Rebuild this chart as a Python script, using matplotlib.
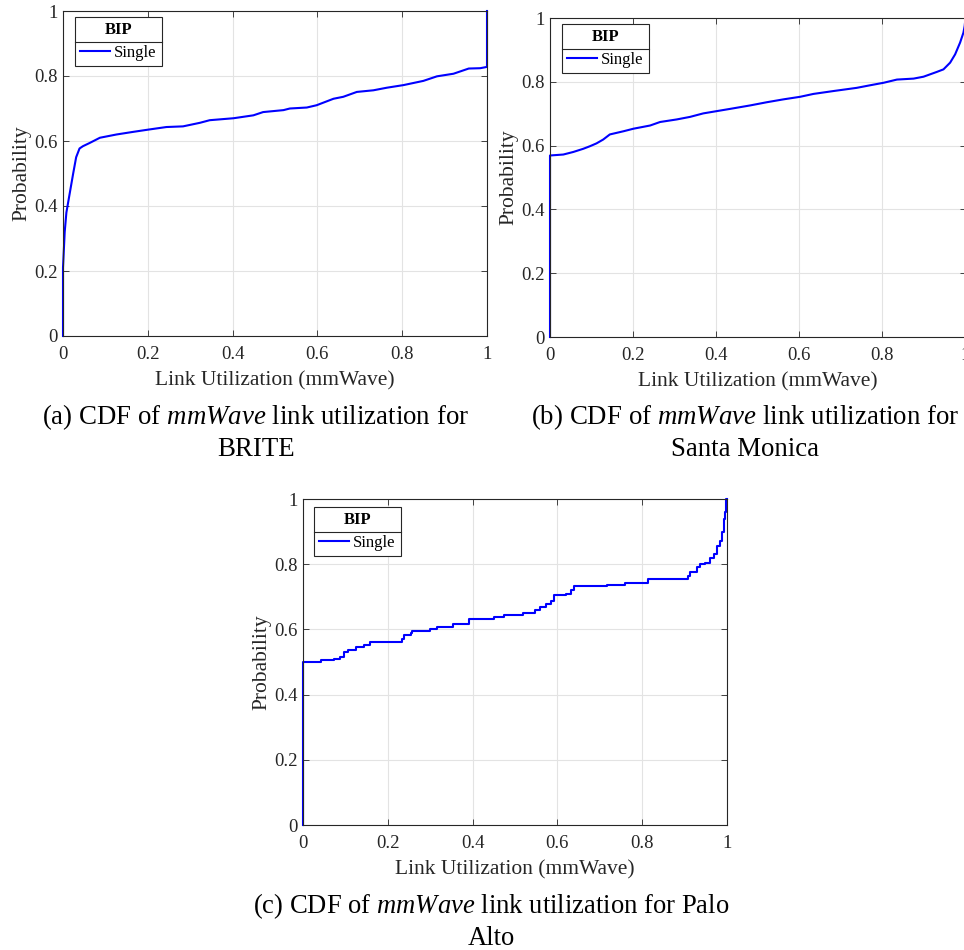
import matplotlib
matplotlib.use('Agg')
import matplotlib.pyplot as plt
from matplotlib.lines import Line2D

plt.rcParams['font.family'] = ['Liberation Serif', 'DejaVu Serif']
plt.rcParams['mathtext.fontset'] = 'custom'
plt.rcParams['mathtext.rm'] = 'Liberation Serif'
plt.rcParams['mathtext.it'] = 'Liberation Serif:italic'

# ---------------- data ----------------
ticks = [0, 0.2, 0.4, 0.6, 0.8, 1]
tick_labels = ['0', '0.2', '0.4', '0.6', '0.8', '1']
x_label = 'Link Utilization (mmWave)'
y_label = 'Probability'
legend_title = 'BIP'
series_name = 'Single'

brite_x = [0, 0, 0.004, 0.008, 0.016, 0.024, 0.031, 0.039, 0.047, 0.063,
           0.087, 0.126, 0.165, 0.201, 0.244, 0.283, 0.323, 0.346, 0.402, 0.449,
           0.472, 0.520, 0.535, 0.575, 0.598, 0.638, 0.661, 0.693, 0.732, 0.764,
           0.803, 0.850, 0.882, 0.921, 0.957, 0.984, 1.0, 1.0]
brite_y = [0, 0.21, 0.32, 0.38, 0.44, 0.50, 0.55, 0.577, 0.584, 0.594,
           0.61, 0.62, 0.628, 0.635, 0.643, 0.645, 0.656, 0.664, 0.67, 0.679,
           0.689, 0.695, 0.70, 0.703, 0.71, 0.73, 0.736, 0.751, 0.756, 0.764,
           0.772, 0.785, 0.799, 0.807, 0.823, 0.824, 0.828, 1.0]

sm_x = [0, 0, 0.032, 0.056, 0.080, 0.096, 0.112, 0.128, 0.144, 0.177,
        0.201, 0.241, 0.265, 0.305, 0.337, 0.369, 0.401, 0.433, 0.482, 0.522,
        0.562, 0.602, 0.634, 0.682, 0.738, 0.770, 0.803, 0.835, 0.875, 0.899,
        0.931, 0.947, 0.963, 0.975, 0.987, 0.995, 0.998, 1.0]
sm_y = [0, 0.569, 0.572, 0.58, 0.59, 0.598, 0.607, 0.619, 0.635, 0.645,
        0.653, 0.663, 0.674, 0.682, 0.690, 0.701, 0.708, 0.715, 0.726, 0.736,
        0.745, 0.753, 0.762, 0.771, 0.781, 0.789, 0.797, 0.807, 0.810, 0.816,
        0.831, 0.839, 0.860, 0.886, 0.923, 0.954, 0.975, 1.0]

pa_x = [0, 0, 0.042, 0.072, 0.088, 0.096, 0.105, 0.126, 0.145, 0.157,
        0.233, 0.239, 0.255, 0.257, 0.299, 0.316, 0.354, 0.391, 0.451, 0.475,
        0.519, 0.546, 0.560, 0.572, 0.585, 0.591, 0.621, 0.631, 0.640, 0.717,
        0.760, 0.813, 0.908, 0.913, 0.929, 0.936, 0.949, 0.961, 0.970, 0.976,
        0.984, 0.988, 0.992, 0.996, 0.998, 1.0]
pa_y = [0, 0.50, 0.505, 0.51, 0.515, 0.53, 0.538, 0.545, 0.553, 0.56,
        0.57, 0.583, 0.59, 0.594, 0.60, 0.606, 0.616, 0.633, 0.638, 0.643,
        0.65, 0.66, 0.67, 0.678, 0.686, 0.705, 0.71, 0.72, 0.733, 0.737,
        0.742, 0.754, 0.765, 0.775, 0.79, 0.80, 0.805, 0.82, 0.83, 0.855,
        0.87, 0.90, 0.94, 0.96, 1.0, 1.0]

captions = [
    ("(a) CDF of $\\mathit{mmWave}$ link utilization for", "BRITE"),
    ("(b) CDF of $\\mathit{mmWave}$ link utilization for", "Santa Monica"),
    ("(c) CDF of $\\mathit{mmWave}$ link utilization for Palo", "Alto"),
]

# ---------------- layout ----------------
W, H = 964, 950
fig = plt.figure(figsize=(W / 100, H / 100), dpi=100)
DARK = '#262626'


def px_axes(l, t, r, b):
    return fig.add_axes([l / W, 1 - b / H, (r - l) / W, (b - t) / H])


def style(ax):
    ax.set_xlim(0, 1)
    ax.set_ylim(0, 1)
    ax.set_xticks(ticks)
    ax.set_yticks(ticks)
    ax.set_xticklabels(tick_labels)
    ax.set_yticklabels(tick_labels)
    ax.grid(True, color='#e3e3e3', lw=0.8)
    ax.set_axisbelow(True)
    ax.tick_params(direction='in', top=True, right=True, length=4, width=0.6,
                   colors=DARK, labelsize=13.5)
    ax.tick_params(axis='x', pad=7)
    ax.tick_params(axis='y', pad=4)
    for s in ax.spines.values():
        s.set_color(DARK)
        s.set_linewidth(0.8)
    ax.set_xlabel(x_label, fontsize=15.5, color=DARK, labelpad=6)
    ax.set_ylabel(y_label, fontsize=15.5, color=DARK, labelpad=2)


def add_legend(ax, line, ax_px, leg_px):
    l, t, r, b = ax_px
    lx, ly = leg_px
    ax_w, ax_h = r - l, b - t
    leg = ax.legend([line], [series_name], title=legend_title, loc='upper left',
                    bbox_to_anchor=((lx - l) / ax_w, 1 - (ly - t) / ax_h),
                    borderaxespad=0, fancybox=False, edgecolor=DARK,
                    framealpha=1, fontsize=12,
                    title_fontproperties={'weight': 'bold', 'size': 12},
                    handlelength=1.75, handletextpad=0.25, borderpad=0.32,
                    labelspacing=0.4)
    leg.get_frame().set_linewidth(0.8)
    return leg


panels = [
    ((63, 11, 487, 336), (75, 17), brite_x, brite_y, 'default'),
    ((550, 18, 965.5, 337), (562, 24), sm_x, sm_y, 'default'),
    ((303, 499, 727, 825), (314, 507), pa_x, pa_y, 'steps-post'),
]

legends = []
for ax_px, leg_px, xs, ys, ds in panels:
    ax = px_axes(*ax_px)
    style(ax)
    ln, = ax.plot(xs, ys, color='#0000ff', lw=1.5, drawstyle=ds, clip_on=False)
    legends.append(add_legend(ax, ln, ax_px, leg_px))

# captions
cap_pos = [(256, 424, 456, 19.4), (745, 424, 456, 19.4), (491, 913, 945, 19.2)]
for (l1, l2), (cx, b1, b2, fs) in zip(captions, cap_pos):
    fig.text(cx / W, 1 - b1 / H, l1, ha='center', va='baseline', fontsize=fs)
    fig.text(cx / W, 1 - b2 / H, l2, ha='center', va='baseline', fontsize=fs)

# separator line between legend title and entries (MATLAB style)
fig.canvas.draw()
renderer = fig.canvas.get_renderer()
inv = fig.transFigure.inverted()
for leg in legends:
    fb = leg.get_frame().get_window_extent(renderer)
    tb = leg.get_title().get_window_extent(renderer)
    eb = leg.get_texts()[0].get_window_extent(renderer)
    ysep = (tb.y0 + eb.y1) / 2
    (x0, y0), (x1, _) = inv.transform([(fb.x0, ysep), (fb.x1, ysep)])
    fig.add_artist(Line2D([x0, x1], [y0, y0], transform=fig.transFigure,
                          color=DARK, lw=0.8))

fig.savefig('out.png', dpi=100)
